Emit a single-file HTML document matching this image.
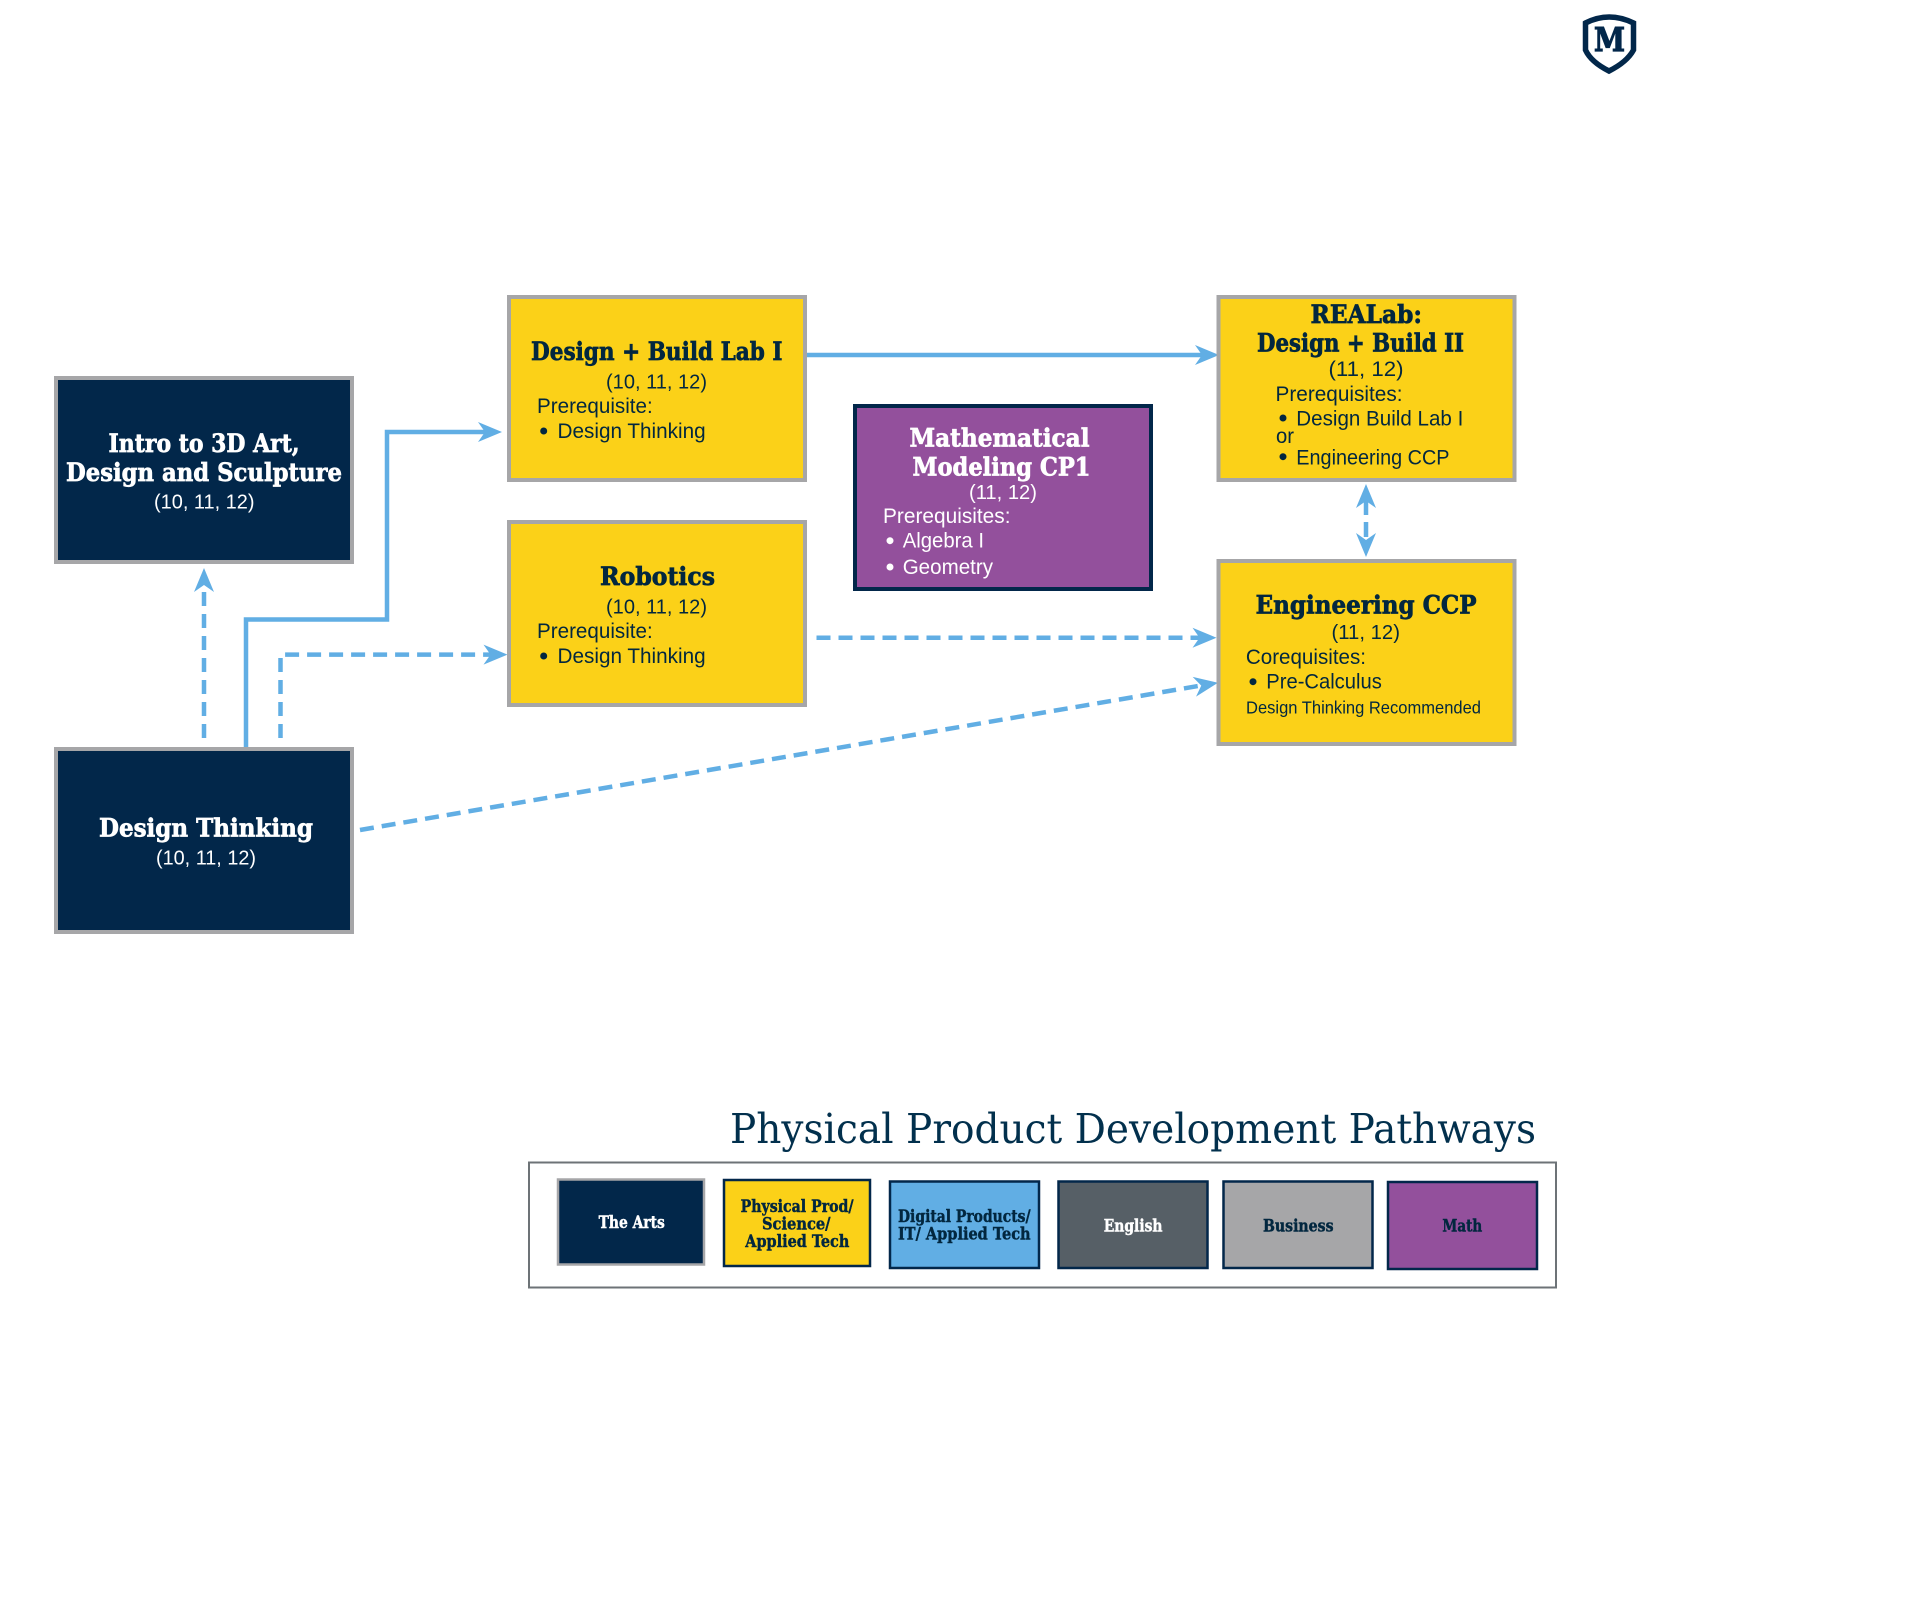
<!DOCTYPE html>
<html><head><meta charset="utf-8">
<style>
html,body{margin:0;padding:0;background:#fff;width:1920px;height:1620px;overflow:hidden}
svg{display:block}
.t{font-family:"DejaVu Serif","Liberation Serif",serif;font-weight:bold;font-size:25.5px;stroke-width:.7px}
.b{font-family:"Liberation Sans",sans-serif;font-size:21.5px}
.g{font-family:"Liberation Sans",sans-serif;font-size:20.5px}
.l{font-family:"DejaVu Serif","Liberation Serif",serif;font-weight:bold;font-size:16.5px;stroke-width:.45px}
.w{fill:#fff;stroke:#fff}.n{fill:#02273f;stroke:#02273f}
.b,.g{stroke:none}
</style></head><body>
<svg width="1920" height="1620" viewBox="0 0 1920 1620" xmlns="http://www.w3.org/2000/svg">
<defs><polygon id="ah" points="0,0 -24,-10 -17,0 -24,10" fill="#61aee4"/></defs>

<!-- logo -->
<path d="M1585.500 23 Q1609 11 1633.500 23 L1633.500 50 Q1627 62 1609 71 Q1591 62 1585.500 50 Z" fill="#fff" stroke="#02274a" stroke-width="5.500"/>
<text x="1594" y="51" font-family="DejaVu Serif,serif" font-weight="bold" font-size="33" fill="#02274a" stroke="#02274a" stroke-width="1.200" textLength="31" lengthAdjust="spacingAndGlyphs">M</text>

<!-- connectors -->
<g fill="none" stroke="#61aee4" stroke-width="4.500">
<polyline points="246,747 246,619.500 387,619.500 387,432 488,432"/>
<line x1="807" y1="355" x2="1205" y2="355"/>
<g stroke-dasharray="14 8">
<line x1="204" y1="738" x2="204" y2="585"/>
<polyline points="280.500,738 280.500,654.600 494,654.600"/>
<line x1="816.500" y1="637.700" x2="1202" y2="637.700"/>
<line x1="360" y1="830" x2="1205" y2="684.800"/>
</g>
<line x1="1366" y1="500" x2="1366" y2="542" stroke-dasharray="15 7"/>
</g>
<use href="#ah" transform="translate(502,432)"/>
<use href="#ah" transform="translate(1219,355)"/>
<use href="#ah" transform="translate(204,568) rotate(-90)"/>
<use href="#ah" transform="translate(507.500,654.600)"/>
<use href="#ah" transform="translate(1216.500,637.700)"/>
<use href="#ah" transform="translate(1218,682.700) rotate(-9.750)"/>
<use href="#ah" transform="translate(1366,484) rotate(-90)"/>
<use href="#ah" transform="translate(1366,557) rotate(90)"/>

<!-- boxes -->
<g stroke="#a6a6a8" stroke-width="4">
<rect x="56" y="378" width="296" height="184" fill="#02274a"/>
<rect x="56" y="749" width="296" height="183" fill="#02274a"/>
<rect x="509" y="297" width="296" height="183" fill="#fbd118"/>
<rect x="509" y="522" width="296" height="183" fill="#fbd118"/>
<rect x="1218.500" y="297" width="296" height="183" fill="#fbd118"/>
<rect x="1218.500" y="561" width="296" height="183" fill="#fbd118"/>
</g>
<rect x="855" y="406" width="296" height="183" fill="#93509c" stroke="#02274a" stroke-width="4"/>

<!-- Intro -->
<text class="t w" x="108.500" y="452" textLength="191" lengthAdjust="spacingAndGlyphs">Intro to 3D Art,</text>
<text class="t w" x="66" y="481" textLength="276" lengthAdjust="spacingAndGlyphs">Design and Sculpture</text>
<text class="g w" x="154" y="508.500" textLength="100.500" lengthAdjust="spacingAndGlyphs">(10, 11, 12)</text>

<!-- Design Thinking -->
<text class="t w" x="99" y="836.300" textLength="214" lengthAdjust="spacingAndGlyphs">Design Thinking</text>
<text class="g w" x="156" y="864.500" textLength="100" lengthAdjust="spacingAndGlyphs">(10, 11, 12)</text>

<!-- Design + Build I -->
<text class="t n" x="531" y="360" textLength="251.500" lengthAdjust="spacingAndGlyphs">Design + Build Lab I</text>
<text class="g n" x="606" y="388.500" textLength="101" lengthAdjust="spacingAndGlyphs">(10, 11, 12)</text>
<text class="b n" x="537" y="413" textLength="115.700" lengthAdjust="spacingAndGlyphs">Prerequisite:</text>
<circle class="n" cx="543.700" cy="431" r="3"/>
<text class="b n" x="557.500" y="438" textLength="148.200" lengthAdjust="spacingAndGlyphs">Design Thinking</text>

<!-- Robotics -->
<text class="t n" x="600" y="585.200" textLength="115" lengthAdjust="spacingAndGlyphs">Robotics</text>
<text class="g n" x="606" y="613.500" textLength="101" lengthAdjust="spacingAndGlyphs">(10, 11, 12)</text>
<text class="b n" x="537" y="638.200" textLength="115.700" lengthAdjust="spacingAndGlyphs">Prerequisite:</text>
<circle class="n" cx="543.700" cy="656" r="3"/>
<text class="b n" x="557.500" y="662.800" textLength="148.200" lengthAdjust="spacingAndGlyphs">Design Thinking</text>

<!-- Math -->
<text class="t w" x="909.500" y="446.700" textLength="180" lengthAdjust="spacingAndGlyphs">Mathematical</text>
<text class="t w" x="912.500" y="475.700" textLength="178" lengthAdjust="spacingAndGlyphs">Modeling CP1</text>
<text class="g w" x="969" y="499" textLength="68" lengthAdjust="spacingAndGlyphs">(11, 12)</text>
<text class="b w" x="883" y="523" textLength="127.500" lengthAdjust="spacingAndGlyphs">Prerequisites:</text>
<circle class="w" cx="890" cy="540.700" r="3"/>
<text class="b w" x="902.700" y="547.700" textLength="81.300" lengthAdjust="spacingAndGlyphs">Algebra I</text>
<circle class="w" cx="890" cy="567" r="3"/>
<text class="b w" x="902.700" y="574" textLength="90.300" lengthAdjust="spacingAndGlyphs">Geometry</text>

<!-- REALab -->
<text class="t n" x="1310.500" y="323" textLength="111.500" lengthAdjust="spacingAndGlyphs">REALab:</text>
<text class="t n" x="1257" y="351.700" textLength="207" lengthAdjust="spacingAndGlyphs">Design + Build II</text>
<text class="b n" x="1328.500" y="376" textLength="75" lengthAdjust="spacingAndGlyphs">(11, 12)</text>
<text class="b n" x="1275.500" y="401" textLength="127" lengthAdjust="spacingAndGlyphs">Prerequisites:</text>
<circle class="n" cx="1283" cy="418" r="3"/>
<text class="b n" x="1296.300" y="425.700" textLength="167" lengthAdjust="spacingAndGlyphs">Design Build Lab I</text>
<text class="b n" x="1276" y="443" textLength="18" lengthAdjust="spacingAndGlyphs">or</text>
<circle class="n" cx="1283" cy="456.700" r="3"/>
<text class="b n" x="1296.300" y="464.300" textLength="153.200" lengthAdjust="spacingAndGlyphs">Engineering CCP</text>

<!-- Engineering -->
<text class="t n" x="1255.600" y="613.300" textLength="221" lengthAdjust="spacingAndGlyphs">Engineering CCP</text>
<text class="g n" x="1331.500" y="639" textLength="68.500" lengthAdjust="spacingAndGlyphs">(11, 12)</text>
<text class="b n" x="1245.900" y="664" textLength="120.100" lengthAdjust="spacingAndGlyphs">Corequisites:</text>
<circle class="n" cx="1253" cy="681.700" r="3"/>
<text class="b n" x="1266.300" y="688.300" textLength="115.500" lengthAdjust="spacingAndGlyphs">Pre-Calculus</text>
<text x="1246" y="713.300" font-family="Liberation Sans,sans-serif" font-size="17.500" fill="#02273f" textLength="235" lengthAdjust="spacingAndGlyphs">Design Thinking Recommended</text>

<!-- legend -->
<text x="730" y="1143" font-family="DejaVu Serif,serif" font-size="41" fill="#02304d" textLength="806" lengthAdjust="spacingAndGlyphs">Physical Product Development Pathways</text>
<rect x="529" y="1162.500" width="1027" height="125" fill="none" stroke="#6d7377" stroke-width="2"/>
<rect x="558" y="1179.500" width="146" height="85" fill="#02274a" stroke="#a6a6a8" stroke-width="2.500"/>
<rect x="724" y="1180" width="146" height="86" fill="#fbd118" stroke="#02274a" stroke-width="2.500"/>
<rect x="890" y="1181.500" width="149" height="86.500" fill="#61aee4" stroke="#02274a" stroke-width="2.500"/>
<rect x="1058.500" y="1181.500" width="149" height="86.500" fill="#565f66" stroke="#02274a" stroke-width="2.500"/>
<rect x="1223.500" y="1181.500" width="149" height="86.500" fill="#a6a6a8" stroke="#02274a" stroke-width="2.500"/>
<rect x="1388" y="1182" width="149" height="87" fill="#93509c" stroke="#02274a" stroke-width="2.500"/>

<text class="l w" x="598.600" y="1228" textLength="66.200" lengthAdjust="spacingAndGlyphs">The Arts</text>
<text class="l n" x="740.600" y="1212" textLength="113" lengthAdjust="spacingAndGlyphs">Physical Prod/</text>
<text class="l n" x="762" y="1229.700" textLength="68.500" lengthAdjust="spacingAndGlyphs">Science/</text>
<text class="l n" x="745.300" y="1247" textLength="104" lengthAdjust="spacingAndGlyphs">Applied Tech</text>
<text class="l n" x="898" y="1222" textLength="132.600" lengthAdjust="spacingAndGlyphs">Digital Products/</text>
<text class="l n" x="898" y="1239.300" textLength="132.600" lengthAdjust="spacingAndGlyphs">IT/ Applied Tech</text>
<text class="l w" x="1103.700" y="1231.300" textLength="58.800" lengthAdjust="spacingAndGlyphs">English</text>
<text class="l n" x="1263" y="1231.300" textLength="70.500" lengthAdjust="spacingAndGlyphs">Business</text>
<text class="l n" x="1442.400" y="1231.300" textLength="39.800" lengthAdjust="spacingAndGlyphs">Math</text>
</svg>
</body></html>
